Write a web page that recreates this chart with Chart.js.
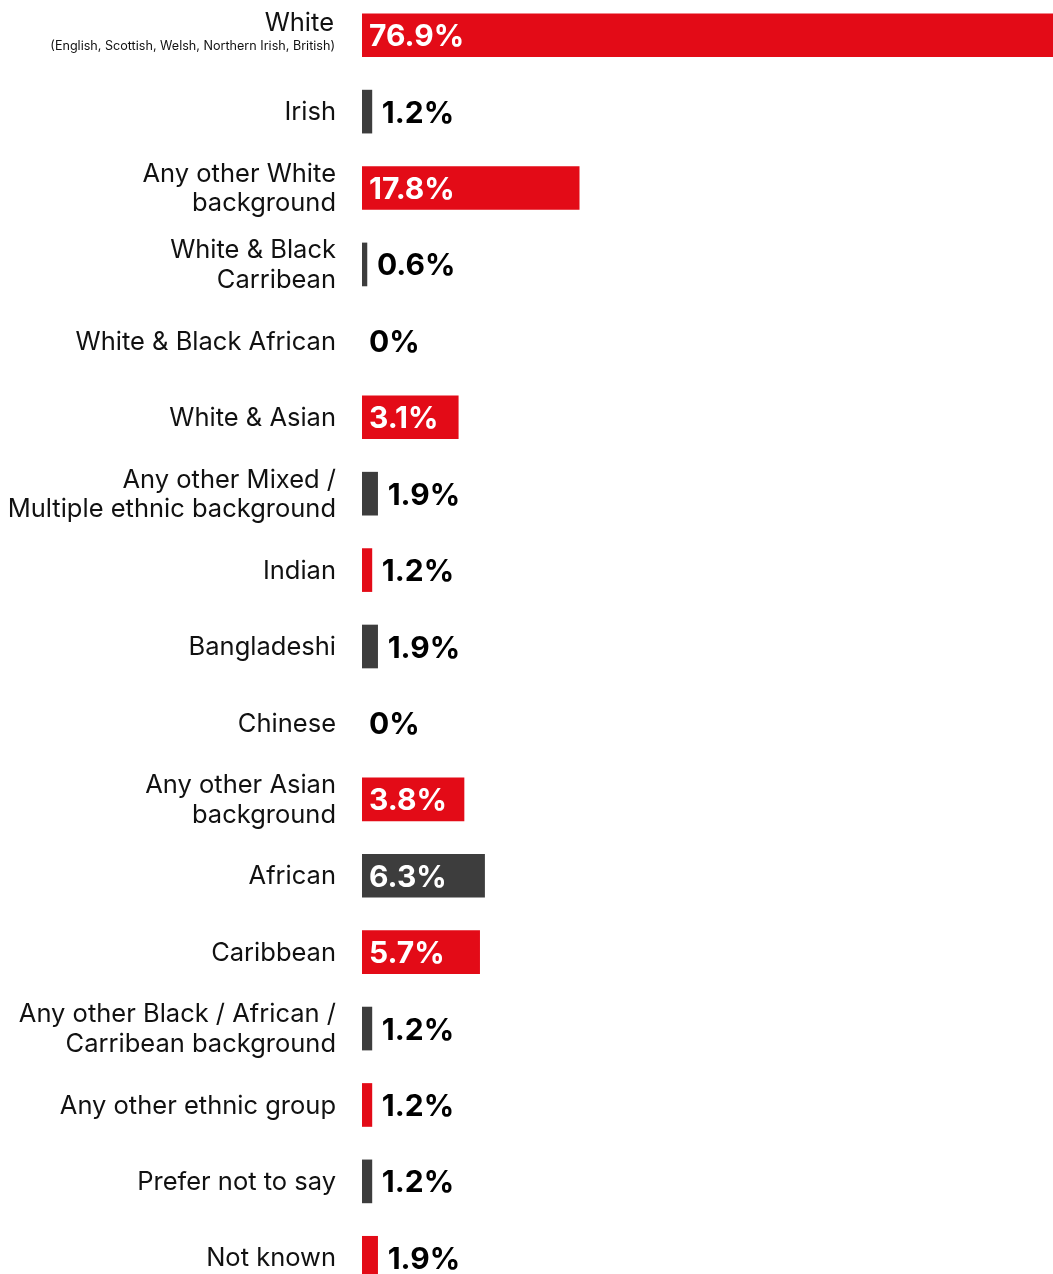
<!DOCTYPE html>
<html>
<head>
  <meta charset="utf-8">
  <title>Ethnicity breakdown</title>
  <script src="https://cdn.jsdelivr.net/npm/chart.js@4.4.0/dist/chart.umd.min.js"></script>
  <style>
    * { margin: 0; padding: 0; box-sizing: border-box; }
    html, body { width: 1053px; height: 1274px; overflow: hidden; background: #fff; }
    #wrap { position: absolute; left: 0; top: -3px; width: 1053px; height: 1299px; }
  </style>
</head>
<body>
  <div id="wrap"><canvas id="chart" width="1053" height="1299"></canvas></div>

  <script>
    // Data
    const categories = [
      ['White'], ['Irish'], ['Any other White', 'background'], ['White & Black', 'Carribean'],
      ['White & Black African'], ['White & Asian'], ['Any other Mixed /', 'Multiple ethnic background'],
      ['Indian'], ['Bangladeshi'], ['Chinese'], ['Any other Asian', 'background'], ['African'],
      ['Caribbean'], ['Any other Black / African /', 'Carribean background'],
      ['Any other ethnic group'], ['Prefer not to say'], ['Not known']
    ];
    const subtitles = ['(English, Scottish, Welsh, Northern Irish, British)'];
    const values = [76.9, 1.2, 17.8, 0.6, 0, 3.1, 1.9, 1.2, 1.9, 0, 3.8, 6.3, 5.7, 1.2, 1.2, 1.2, 1.9];

    // Style
    const RED = '#e30b17';
    const DARK = '#3d3d3d';
    const INSIDE_MIN = 3;   // bars from this value up carry their label inside
    const LABEL_PAD = 8.6;  // extra room (in value units) added so the label fits
    const LABEL_X = 336;
    const FONT = 'Inter, "Noto Sans", sans-serif';

    // colours alternate over the non-zero bars
    let k = 0;
    const colors = values.map(v => v > 0 ? (k++ % 2 === 0 ? RED : DARK) : 'rgba(0,0,0,0)');
    const lengths = values.map(v => v >= INSIDE_MIN ? v + LABEL_PAD : v);

    const labelPlugin = {
      id: 'labels',
      afterDatasetsDraw(chart) {
        const c = chart.ctx;
        const y = chart.scales.y;
        const area = chart.chartArea;
        const bars = chart.getDatasetMeta(0).data;
        c.save();

        categories.forEach((lines, i) => {
          const cy = y.getPixelForValue(i);
          c.fillStyle = '#111';
          c.textAlign = 'right';
          c.textBaseline = 'middle';
          if (subtitles[i]) {
            c.font = '400 25.5px ' + FONT;
            c.fillText(lines[0], LABEL_X - 2, cy - 12);
            c.font = '400 12.6px ' + FONT;
            c.fillText(subtitles[i], LABEL_X - 1, cy + 11);
          } else {
            c.font = '400 25.5px ' + FONT;
            const lh = 29.5;
            const y0 = cy - (lines.length - 1) * lh / 2;
            lines.forEach((t, j) => c.fillText(t, LABEL_X, y0 + j * lh + 1));
          }

          // value labels
          const v = values[i];
          const text = v + '%';
          c.font = '700 30px ' + FONT;
          c.textAlign = 'left';
          c.textBaseline = 'alphabetic';
          const base = cy + 11;
          if (v >= INSIDE_MIN) {
            c.fillStyle = '#fff';
            c.fillText(text, area.left + 7, base);
          } else {
            const end = Math.min(bars[i].x, area.right);
            c.fillStyle = '#000';
            c.fillText(text, end + (v > 0 ? 10 : 7), base);
          }
        });
        c.restore();
      }
    };

    new Chart(document.getElementById('chart'), {
      type: 'bar',
      data: {
        labels: categories.map(l => l.join(' ')),
        datasets: [{
          data: lengths,
          backgroundColor: colors,
          borderWidth: 0,
          barThickness: 43,
          categoryPercentage: 1
        }]
      },
      options: {
        indexAxis: 'y',
        responsive: false,
        devicePixelRatio: 1,
        animation: false,
        layout: { padding: { left: 362, right: 0, top: 0, bottom: 0 } },
        plugins: {
          legend: { display: false },
          tooltip: { enabled: false }
        },
        scales: {
          x: { display: false, min: 0, max: 84 },
          y: { display: false }
        }
      },
      plugins: [labelPlugin]
    });
  </script>
</body>
</html>
